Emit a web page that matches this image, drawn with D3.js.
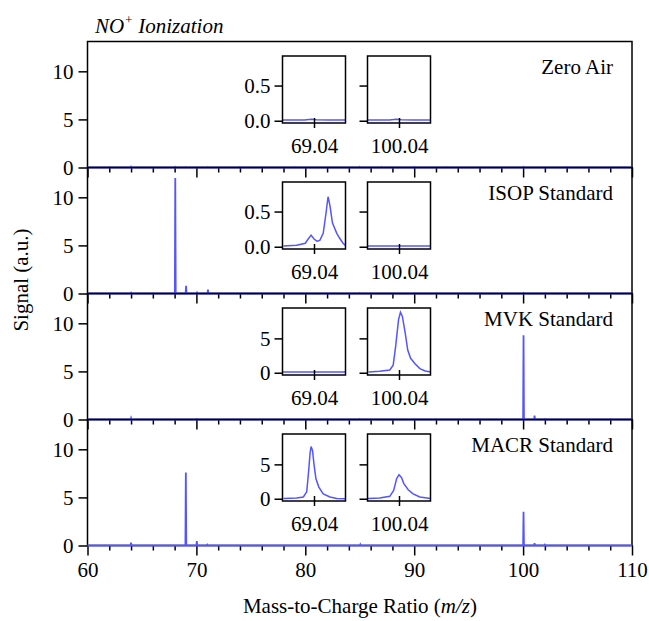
<!DOCTYPE html>
<html>
<head>
<meta charset="utf-8">
<script src="https://cdn.jsdelivr.net/npm/d3@7"></script>
<style>
  body { margin: 0; background: #fff; }
  text { font-family: "Liberation Serif", "Times New Roman", serif; fill: #000; }
</style>
</head>
<body>
<div id="chart"></div>
<script>
// ---- data ----
const panelNames = ['Zero Air', 'ISOP Standard', 'MVK Standard', 'MACR Standard'];
const mainXTicks = [60, 70, 80, 90, 100, 110];
const mainYTicks = [0, 5, 10];
const insetCenters = [69.04, 100.04];
const insetMax = [0.92, 0.92, 9.42, 9.42];
const insetTicks = [[0, 0.5], [0, 0.5], [0, 5], [0, 5]];

// stick spectra, [m/z, signal]
const zeroPeaks = [[62.0, 0.04], [64.0, 0.08], [68.05, 0.06], [69.04, 0.05], [71.0, 0.04], [74.0, 0.05],
  [79.0, 0.04], [85.0, 0.06], [87.0, 0.05], [90.0, 0.05], [93.0, 0.04], [100.04, 0.06], [104.0, 0.04]];
const isopPeaks = [[64.0, 0.08], [68.06, 12.0], [69.05, 0.8], [70.05, 0.2], [71.06, 0.4], [85.0, 0.05], [100.04, 0.05]];
const mvkPeaks = [[64.0, 0.15], [70.05, 0.05], [85.0, 0.05], [100.04, 8.75], [101.05, 0.4], [102.0, 0.05], [108.0, 0.04]];
const macrPeaks = [[64.0, 0.3], [69.03, 7.6], [70.04, 0.45], [71.0, 0.08], [85.05, 0.1], [100.04, 3.5], [101.05, 0.25], [102.0, 0.08]];

// inset traces, [m/z, signal]
const zero69 = [[68.975, 0.01], [69.0, 0.01], [69.02, 0.012], [69.035, 0.02], [69.045, 0.015], [69.07, 0.01], [69.105, 0.01]];
const zero100 = [[99.975, 0.01], [100.0, 0.01], [100.02, 0.012], [100.035, 0.02], [100.045, 0.015], [100.07, 0.01], [100.105, 0.01]];
const isop69 = [[68.977, 0.01], [69.004, 0.02], [69.022, 0.05], [69.028, 0.11], [69.034, 0.165], [69.040, 0.11],
  [69.046, 0.08], [69.052, 0.09], [69.059, 0.19], [69.065, 0.49], [69.069, 0.71], [69.073, 0.58], [69.078, 0.34],
  [69.087, 0.19], [69.093, 0.12], [69.100, 0.05], [69.106, 0.01]];
const isop100 = [[99.975, 0.01], [100.0, 0.01], [100.04, 0.012], [100.07, 0.01], [100.105, 0.01]];
const mvk69 = [[68.975, 0.1], [69.0, 0.1], [69.04, 0.1], [69.07, 0.1], [69.105, 0.1]];
const mvk100 = [[99.977, 0.1], [100.000, 0.2], [100.021, 0.4], [100.028, 1.1], [100.033, 3.8], [100.039, 7.7],
  [100.043, 8.8], [100.047, 8.2], [100.053, 5.7], [100.058, 3.3], [100.064, 2.1], [100.073, 1.3], [100.083, 0.6],
  [100.094, 0.25], [100.106, 0.1]];
const macr69 = [[68.977, 0.05], [69.004, 0.1], [69.018, 0.25], [69.025, 1.0], [69.029, 4.1], [69.032, 6.7],
  [69.034, 7.6], [69.037, 7.0], [69.040, 5.0], [69.044, 2.9], [69.050, 1.7], [69.059, 0.7], [69.073, 0.25],
  [69.087, 0.05], [69.106, 0.0]];
const macr100 = [[99.976, 0.05], [100.000, 0.1], [100.021, 0.35], [100.029, 1.2], [100.035, 2.9], [100.040, 3.5],
  [100.045, 3.1], [100.050, 2.2], [100.059, 1.3], [100.069, 0.7], [100.083, 0.25], [100.105, 0.05]];

const panelPeaks = [zeroPeaks, isopPeaks, mvkPeaks, macrPeaks];
const panelInsets = [[zero69, zero100], [isop69, isop100], [mvk69, mvk100], [macr69, macr100]];

// ---- layout ----
const W = 649, H = 621;
const plotLeft = 87.5, plotRight = 632, plotTop = 41.5, ph = 126;
const blue = '#5555ff';
const fs = '21px';
const insetX = [282.5, 367.5], insetW = 63, insetH = 67, insetTop = 14.5, insetHalf = 0.065;

const svg = d3.select('#chart').append('svg').attr('width', W).attr('height', H);
const x = d3.scaleLinear().domain([60, 110]).range([plotLeft, plotRight]);
const minorTicks = d3.range(62, 110, 2).filter(v => v % 10 !== 0);

function stick(peaks) {
  const pts = [[60, 0]];
  peaks.slice().sort((a, b) => a[0] - b[0]).forEach(p => {
    pts.push([p[0] - 0.04, 0], [p[0], p[1]], [p[0] + 0.04, 0]);
  });
  pts.push([110, 0]);
  return pts;
}

panelNames.forEach((name, i) => {
  const y0 = plotTop + i * ph;
  const y = d3.scaleLinear().domain([0, 13.1]).range([y0 + ph, y0]);
  const g = svg.append('g');

  // x ticks below each panel
  const last = i === panelNames.length - 1;
  const xMaj = g.append('g').attr('transform', `translate(0,${y0 + ph})`)
    .call(d3.axisBottom(x).tickValues(mainXTicks).tickSize(10).tickSizeOuter(0).tickPadding(7)
      .tickFormat(last ? d3.format('d') : ''));
  const xMin = g.append('g').attr('transform', `translate(0,${y0 + ph})`)
    .call(d3.axisBottom(x).tickValues(minorTicks).tickSize(5).tickSizeOuter(0).tickFormat(''));
  [xMaj, xMin].forEach(a => {
    a.select('.domain').remove();
    a.selectAll('line').attr('stroke-width', 1.5);
    a.selectAll('text').style('font-size', fs);
  });

  // y axis
  const yAx = g.append('g').attr('transform', `translate(${plotLeft},0)`)
    .call(d3.axisLeft(y).tickValues(mainYTicks).tickSize(9).tickSizeOuter(0).tickPadding(5));
  yAx.select('.domain').remove();
  yAx.selectAll('line').attr('stroke-width', 1.5);
  yAx.selectAll('text').style('font-size', fs);

  // frame
  g.append('rect').attr('x', plotLeft).attr('y', y0).attr('width', plotRight - plotLeft).attr('height', ph)
    .attr('fill', 'none').attr('stroke', '#000').attr('stroke-width', 1.5);

  // spectrum
  g.append('path').datum(stick(panelPeaks[i]))
    .attr('d', d3.line().x(d => x(d[0])).y(d => y(d[1])))
    .attr('fill', 'none').attr('stroke', blue).attr('stroke-width', 1.8);

  g.append('text').attr('x', 613).attr('y', y0 + 32).attr('text-anchor', 'end')
    .style('font-size', fs).text(name);

  // insets
  insetCenters.forEach((c, k) => {
    const bx = insetX[k], by = y0 + insetTop;
    const ix = d3.scaleLinear().domain([c - insetHalf, c + insetHalf]).range([bx, bx + insetW]);
    const iy = d3.scaleLinear().domain([-insetMax[i] * 0.035, insetMax[i]]).range([by + insetH, by]);
    const ig = g.append('g');
    const clipId = `clip${i}${k}`;
    ig.append('clipPath').attr('id', clipId).append('rect')
      .attr('x', bx).attr('y', by).attr('width', insetW).attr('height', insetH);
    ig.append('rect').attr('x', bx).attr('y', by).attr('width', insetW).attr('height', insetH)
      .attr('fill', '#fff');
    ig.append('path').datum(panelInsets[i][k]).attr('clip-path', `url(#${clipId})`)
      .attr('d', d3.line().x(d => ix(d[0])).y(d => iy(d[1])))
      .attr('fill', 'none').attr('stroke', blue).attr('stroke-width', 1.5);
    ig.append('rect').attr('x', bx).attr('y', by).attr('width', insetW).attr('height', insetH)
      .attr('fill', 'none').attr('stroke', '#000').attr('stroke-width', 1.5);

    const ya = ig.append('g').attr('transform', `translate(${bx},0)`)
      .call(d3.axisLeft(iy).tickValues(insetTicks[i]).tickSize(8).tickSizeOuter(0).tickPadding(4)
        .tickFormat(k === 0 ? d3.format(insetMax[i] < 1 ? '.1f' : 'd') : ''));
    ya.select('.domain').remove();
    ya.selectAll('line').attr('stroke-width', 1.5);
    ya.selectAll('text').style('font-size', fs);

    const xa = ig.append('g').attr('transform', `translate(0,${by + insetH + 5})`)
      .call(d3.axisBottom(ix).tickValues([c]).tickSize(10).tickSizeOuter(0).tickPadding(10)
        .tickFormat(d3.format('.2f')));
    xa.select('.domain').remove();
    xa.selectAll('line').attr('stroke-width', 1.5).attr('y1', -10).attr('y2', 0);
    xa.selectAll('text').style('font-size', fs).attr('y', 10);
  });
});

// titles
const t = svg.append('text').attr('x', 95).attr('y', 33).style('font-size', fs).style('font-style', 'italic');
t.append('tspan').text('NO');
t.append('tspan').attr('dy', -9).style('font-size', '13px').text('+');
t.append('tspan').attr('dy', 9).text(' Ionization');

const xl = svg.append('text').attr('x', 360).attr('y', 613)
  .attr('text-anchor', 'middle').style('font-size', fs);
xl.append('tspan').text('Mass-to-Charge Ratio (');
xl.append('tspan').style('font-style', 'italic').text('m/z');
xl.append('tspan').text(')');

svg.append('text').attr('transform', 'translate(28,280) rotate(-90)')
  .attr('text-anchor', 'middle').style('font-size', fs).text('Signal (a.u.)');
</script>
</body>
</html>
